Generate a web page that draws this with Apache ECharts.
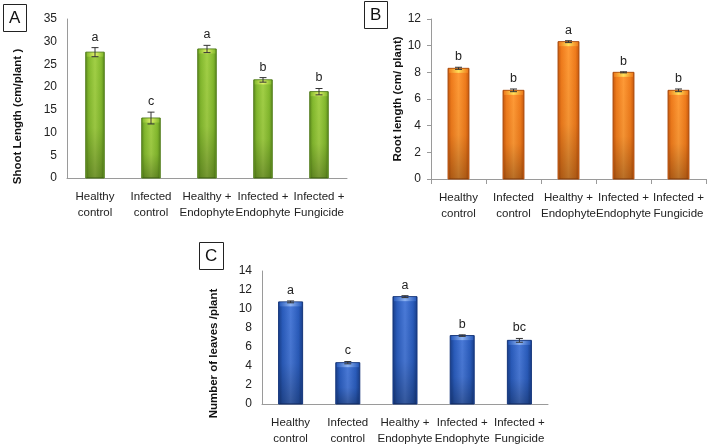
<!DOCTYPE html>
<html>
<head>
<meta charset="utf-8">
<script src="https://cdn.jsdelivr.net/npm/echarts@6/dist/echarts.min.js"></script>
<style>
html,body{margin:0;padding:0;background:#fff;}
#chart{width:708px;height:447px;}
</style>
</head>
<body>
<div id="chart"></div>
<script>
const categories = ['Healthy\ncontrol', 'Infected\ncontrol', 'Healthy +\nEndophyte', 'Infected +\nEndophyte', 'Infected +\nFungicide'];

const shootLength = [27.7, 13.2, 28.4, 21.6, 19.0];
const shootErr = [1.0, 1.3, 0.8, 0.5, 0.7];
const shootLetters = ['a', 'c', 'a', 'b', 'b'];

const rootLength = [8.3, 6.65, 10.3, 8.0, 6.65];
const rootErr = [0.08, 0.1, 0.07, 0.04, 0.1];
const rootLetters = ['b', 'b', 'a', 'b', 'b'];

const leavesCount = [10.75, 4.35, 11.3, 7.2, 6.7];
const leavesErr = [0.1, 0.12, 0.1, 0.08, 0.2];
const leavesLetters = ['a', 'c', 'a', 'b', 'bc'];

const shootTicks = {min: 0, max: 35, interval: 5};
const rootTicks = {min: 0, max: 12, interval: 2};
const leavesTicks = {min: 0, max: 14, interval: 2};

// pick a narrow font if one is installed
function hasFont(name) {
  const c = document.createElement('canvas').getContext('2d');
  const s = 'Endophyte Infected 0123';
  c.font = '40px monospace'; const a = c.measureText(s).width;
  c.font = "40px '" + name + "', monospace"; const b = c.measureText(s).width;
  return Math.abs(a - b) > 0.5;
}
const narrow = hasFont('Liberation Sans Narrow');
const FONT = narrow ? "'Liberation Sans Narrow', sans-serif" : "'Liberation Sans', Arial, sans-serif";
const CAT_SIZE = narrow ? 13 : 11.5;
const TICK_SIZE = narrow ? 13.5 : 12;

function grad(dark, main, light) {
  return new echarts.graphic.LinearGradient(0, 0, 1, 0, [
    {offset: 0, color: dark},
    {offset: 0.18, color: main},
    {offset: 0.5, color: light},
    {offset: 0.82, color: main},
    {offset: 1, color: dark}
  ]);
}

function makeRender(letters, ratio, pal) {
  return function (params, api) {
    const idx = api.value(0), val = api.value(1), err = api.value(2);
    const top = api.coord([idx, val]);
    const base = api.coord([idx, 0]);
    const band = api.size([1, 0])[0];
    const w = band * ratio;
    const x0 = top[0] - w / 2;
    const h = base[1] - top[1];
    const eTop = api.coord([idx, val + err]);
    const eBot = api.coord([idx, val - err]);
    const cap = 3.5;
    return {
      type: 'group',
      children: [
        {type: 'rect', shape: {x: x0, y: top[1], width: w, height: h},
         style: {fill: grad(pal.dark, pal.main, pal.light), stroke: pal.border, lineWidth: 1}},
        {type: 'rect', shape: {x: x0 + 1, y: top[1], width: w - 2, height: h},
         style: {fill: new echarts.graphic.LinearGradient(0, 0, 0, 1, [
           {offset: 0, color: 'rgba(0,0,0,0)'},
           {offset: 0.6, color: 'rgba(0,0,0,0.05)'},
           {offset: 1, color: 'rgba(0,0,0,0.28)'}
         ])}},
        {type: 'rect', shape: {x: x0 + 1, y: top[1] + 0.5, width: w - 2, height: 4},
         style: {fill: new echarts.graphic.LinearGradient(0, 0, 1, 0, [
           {offset: 0, color: pal.main},
           {offset: 0.5, color: pal.hi},
           {offset: 1, color: pal.main}
         ])}},
        {type: 'line', shape: {x1: top[0], y1: eTop[1], x2: top[0], y2: eBot[1]},
         style: {stroke: '#333', lineWidth: 1}},
        {type: 'line', shape: {x1: top[0] - cap, y1: eTop[1], x2: top[0] + cap, y2: eTop[1]},
         style: {stroke: '#333', lineWidth: 1}},
        {type: 'line', shape: {x1: top[0] - cap, y1: eBot[1], x2: top[0] + cap, y2: eBot[1]},
         style: {stroke: '#333', lineWidth: 1}},
        {type: 'text', x: top[0], y: eTop[1] - 4,
         style: {text: letters[params.dataIndex], fill: '#222', font: CAT_SIZE + 1 + 'px ' + FONT,
                 textAlign: 'center', textVerticalAlign: 'bottom'}}
      ]
    };
  };
}

const axisLineStyle = {lineStyle: {color: '#9a9a9a', width: 1}};

function xAxisCfg(gi, ticks) {
  return {
    gridIndex: gi, type: 'category', data: categories,
    axisLine: axisLineStyle,
    axisTick: {show: ticks, length: 5, lineStyle: {color: '#9a9a9a'}},
    axisLabel: {margin: 11, lineHeight: 16, interval: 0, color: '#222', fontFamily: FONT, fontSize: CAT_SIZE}
  };
}
function yAxisCfg(gi, t, name, gap, padRight, ticks) {
  return {
    gridIndex: gi, type: 'value', min: t.min, max: t.max, interval: t.interval,
    axisLine: Object.assign({show: true}, axisLineStyle),
    axisTick: {show: ticks, length: 4, lineStyle: {color: '#9a9a9a'}},
    splitLine: {show: false},
    axisLabel: {margin: 10, color: '#222', fontFamily: FONT, fontSize: TICK_SIZE},
    name: name, nameLocation: 'middle', nameRotate: 90, nameGap: gap,
    nameTextStyle: {fontFamily: FONT, fontSize: narrow ? 12.5 : 11.5, fontWeight: 'bold', color: '#111',
                    padding: [0, padRight, 0, 0]}
  };
}

const palA = {dark: '#5b8a1c', main: '#84ba2e', light: '#a2d046', border: '#4f7a18', hi: '#e2f26a'};
const palB = {dark: '#c4560c', main: '#f07c1c', light: '#ff9a36', border: '#a84a0c', hi: '#ffe05a'};
const palC = {dark: '#173c86', main: '#2a5cbc', light: '#4a7ad8', border: '#14357a', hi: '#8fb4f2'};

const boxTitle = (t, l, tp) => ({
  text: t, left: l, top: tp, borderColor: '#222', borderWidth: 1, padding: [6, 6, 5, 6],
  textStyle: {fontFamily: "'Liberation Sans', Arial, sans-serif", fontSize: 17, fontWeight: 'normal', color: '#111'}
});

const chart = echarts.init(document.getElementById('chart'), null, {renderer: 'canvas'});
chart.setOption({
  animation: false,
  backgroundColor: '#fff',
  title: [boxTitle('A', 3, 4), boxTitle('B', 364, 1), boxTitle('C', 199, 242)],
  grid: [
    {left: 67, top: 19, width: 280, height: 159},
    {left: 431, top: 19, width: 275, height: 160},
    {left: 262, top: 271, width: 286, height: 133}
  ],
  xAxis: [xAxisCfg(0, false), xAxisCfg(1, true), xAxisCfg(2, false)],
  yAxis: [
    yAxisCfg(0, shootTicks, 'Shoot Length (cm/plant )', 43, 36, false),
    yAxisCfg(1, rootTicks, 'Root length (cm/ plant)', 27, 0, true),
    yAxisCfg(2, leavesTicks, 'Number of leaves /plant', 42, 32, false)
  ],
  series: [
    {type: 'custom', xAxisIndex: 0, yAxisIndex: 0,
     data: shootLength.map((v, i) => [i, v, shootErr[i]]),
     renderItem: makeRender(shootLetters, 0.33, palA)},
    {type: 'custom', xAxisIndex: 1, yAxisIndex: 1,
     data: rootLength.map((v, i) => [i, v, rootErr[i]]),
     renderItem: makeRender(rootLetters, 0.38, palB)},
    {type: 'custom', xAxisIndex: 2, yAxisIndex: 2,
     data: leavesCount.map((v, i) => [i, v, leavesErr[i]]),
     renderItem: makeRender(leavesLetters, 0.42, palC)}
  ]
});
</script>
</body>
</html>
